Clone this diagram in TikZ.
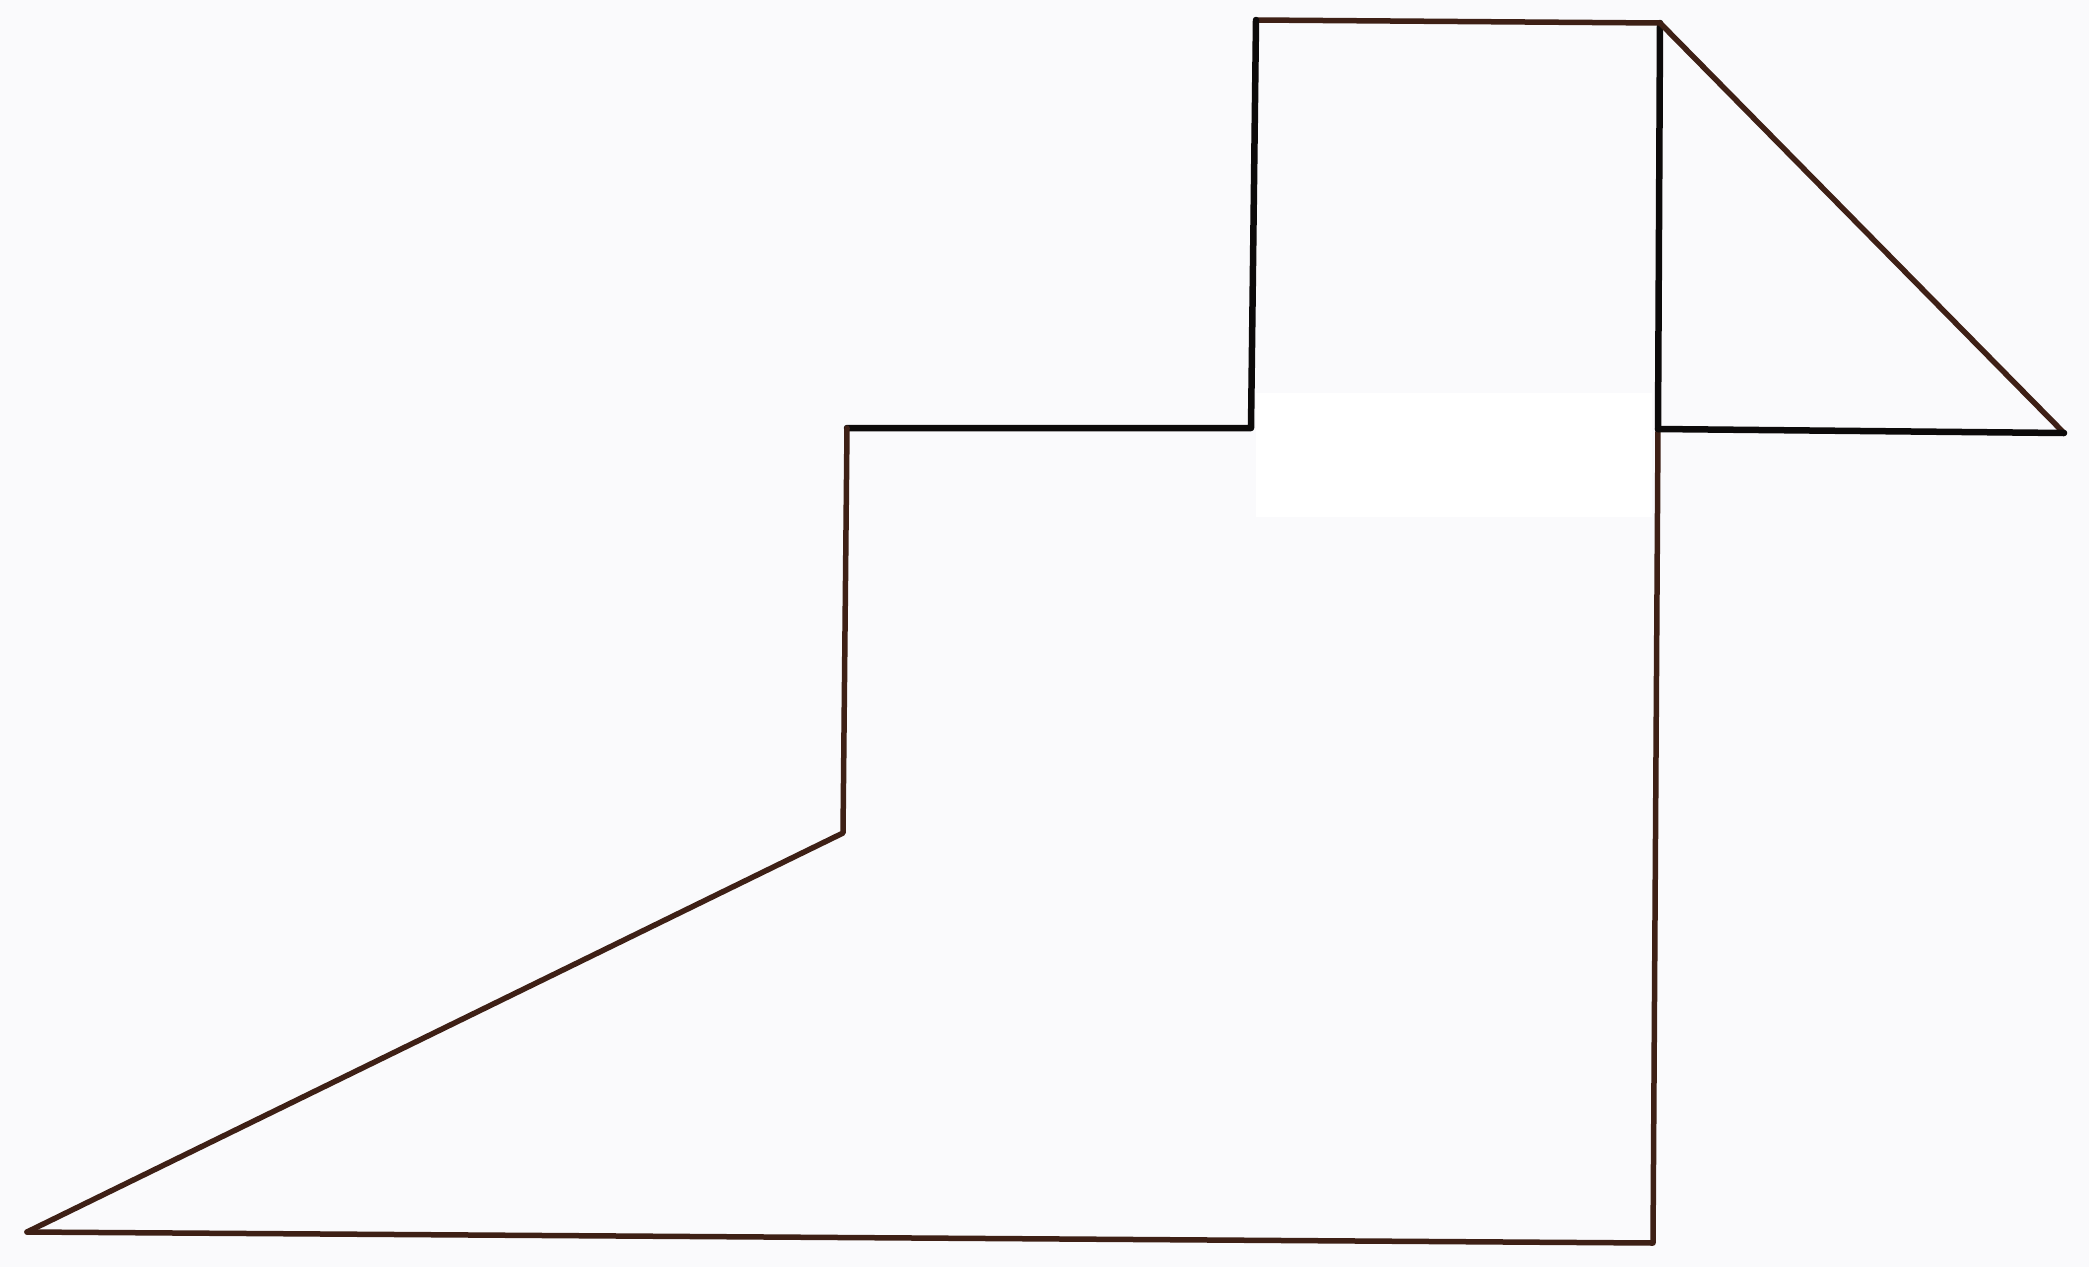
\documentclass[tikz,border=0pt]{standalone}
\definecolor{bgc}{RGB}{250,250,252}
\definecolor{brownline}{RGB}{62,32,22}
\definecolor{blackline}{RGB}{12,10,10}
\begin{document}
\begin{tikzpicture}[x=1pt,y=-1pt,
  edgeb/.style={draw=brownline,line width=5.5pt,line cap=round,line join=round},
  edgek/.style={draw=blackline,line width=6.5pt,line cap=round,line join=round}]
\fill[bgc] (0,0) rectangle (2089,1267);
\useasboundingbox (0,0) rectangle (2089,1267);
\fill[white] (1256,393) rectangle (1652,517);
\coordinate (bl) at (27,1232);
\coordinate (br) at (1653,1243);
\coordinate (tr) at (1660,23);
\coordinate (rm) at (1658,429);
\coordinate (tl) at (1256,20);
\coordinate (sr) at (1251,428);
\coordinate (sl) at (847,428);
\coordinate (sb) at (843,833);
\coordinate (tip) at (2064,433);
\draw[edgeb] (bl) -- (br) -- (rm);
\draw[edgek] (rm) -- (tr);
\draw[edgeb] (tr) -- (tl);
\draw[edgek] (tl) -- (sr) -- (sl);
\draw[edgeb] (sl) -- (sb) -- (bl);
\draw[edgeb] (tr) -- (tip);
\draw[edgek] (tip) -- (rm);
\end{tikzpicture}
\end{document}
